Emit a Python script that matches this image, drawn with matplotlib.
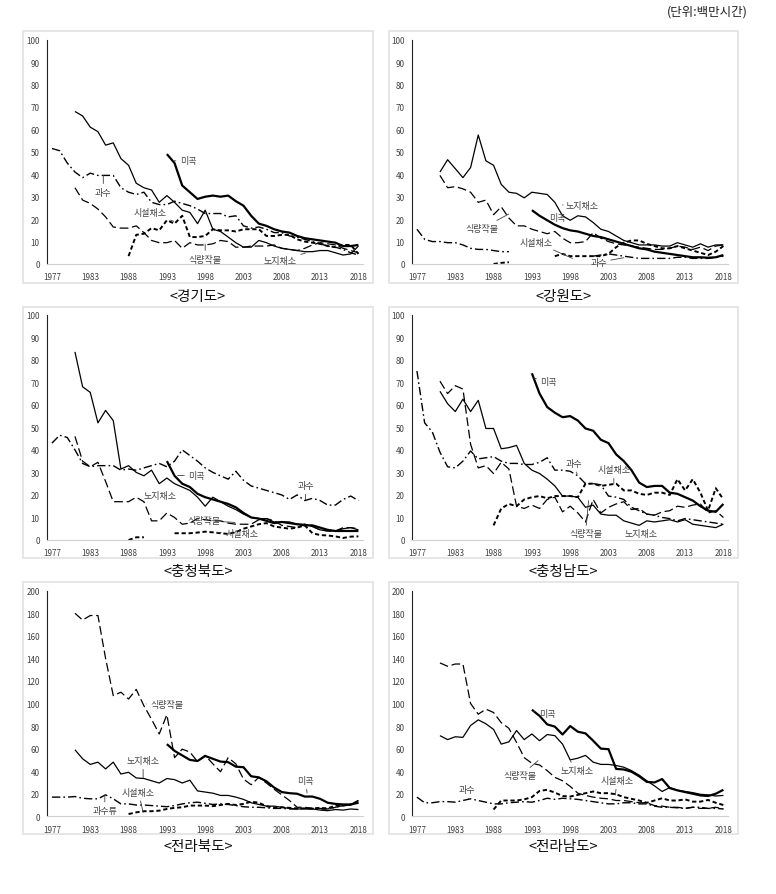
import matplotlib
matplotlib.use('Agg')
import matplotlib.pyplot as plt
from matplotlib.patches import Rectangle
import numpy as np

plt.rcParams['font.family'] = ['Noto Sans CJK KR', 'DejaVu Sans']

# category axis (one year missing between 1977 and 1983)
YEARS = [1977, 1979, 1980, 1981, 1982, 1983, 1984, 1985, 1986, 1987, 1988,
         1989, 1990, 1991, 1992, 1993, 1994, 1995, 1996, 1997, 1998, 1999,
         2000, 2001, 2002, 2003, 2004, 2005, 2006, 2007, 2008, 2009, 2010,
         2011, 2012, 2013, 2014, 2015, 2016, 2017, 2018]
TICK_YEARS = [1977, 1983, 1988, 1993, 1998, 2003, 2008, 2013, 2018]
N = None


def pad(start, vals):
    k = YEARS.index(start)
    return [N] * k + vals + [N] * (len(YEARS) - k - len(vals))


# ---- 경기도 ----
gg_rice = pad(1993, [49, 45, 35, 32, 29, 30, 30.5, 30, 30.5, 28, 26, 21.5, 18, 17, 15.5,
                     14.5, 14, 12.5, 11.5, 11, 10.5, 10, 9.5, 8, 8, 8.5])
gg_openveg = pad(1981, [68, 66, 61, 59, 53, 54, 47, 44, 36, 34, 33, 27.5, 30.5, 27.5, 24, 23,
                        18, 24, 15.5, 14.5, 12, 9.5, 7.5, 7.5, 10.5, 9.5, 8, 7, 6.5, 6, 5.5,
                        5.5, 6, 6, 5, 4, 4.5, 8])
gg_food = pad(1981, [34, 28.5, 27, 24.5, 21, 16.5, 16, 16, 17, 14, 10.5, 9.5, 9.5, 10.5, 7,
                     9.5, 8.5, 8.5, 9, 10.5, 10, 7.5, 7.5, 8, 8, 8, 8.5, 7, 6.5, 6, 7, 8.5,
                     9.5, 9, 8.5, 7, 6, 5])
gg_greenveg = pad(1988, [3.5, 13, 13.5, 16, 15, 19.5, 18, 21.5, 12, 12, 12.5, 15.5, 15, 15,
                         14.5, 15.5, 15.5, 15.5, 12.5, 12.5, 13, 13, 11, 10, 9.5, 9, 8, 7.5,
                         8.5, 8.5, 4.5])
gg_fruit = pad(1977, [51.5, 50.5, 45, 41, 38.5, 40.5, 39.5, 39.5, 39.5, 34, 32, 31, 32, 27.5,
                      26.5, 26.5, 28, 27, 26, 24.5, 22.5, 22.5, 22.5, 21, 21.5, 17, 16, 16.5,
                      15.5, 14, 14, 12.5, 12, 11, 10, 9, 8, 7.5, 6.5, 5, 4])

# ---- 강원도 ----
gw_rice = pad(1993, [24, 21.5, 19.5, 17.5, 16, 15, 14.5, 13.5, 12.5, 12, 11, 10, 9, 8, 7,
                     6.5, 5.5, 5, 4.5, 4, 3.5, 3, 3, 2.8, 3, 4])
gw_openveg = pad(1981, [41, 46.5, 42.5, 38.5, 43, 57.5, 46, 44, 35.5, 32, 31.5, 29.5, 32,
                        31.5, 31, 27.5, 21.5, 19.5, 21.5, 21, 18.5, 15.5, 14.5, 12.5, 10.5,
                        9.5, 8.5, 8.5, 8.5, 8, 8, 9.5, 8.5, 7.5, 9, 7.5, 8.5, 8.5])
gw_food = pad(1981, [39.5, 34, 34.5, 33.5, 32, 27.5, 28.5, 22, 25.5, 20.5, 17, 17, 15.5,
                     14.5, 13.5, 14.5, 11.5, 9.5, 9.5, 10, 14, 11.5, 10, 9, 8.5, 8, 7.5, 7,
                     6.5, 6.5, 7, 8, 7.5, 6.5, 7.5, 6, 8, 8.5])
gw_greenveg = ([N] * 10 + [0, 0.5, 0.8] + [N] * 5 +
               [3.5, 4.5, 3.5, 3.5, 3.5, 3.5, 3.5, 4.5, 7.5, 9.5, 10.5, 10.5, 9, 8, 7, 7,
                8, 7, 6, 5, 4, 5.5, 8])
gw_fruit = ([15.5, 11, 10, 10, 9.5, 9.5, 8.5, 7, 6.5, 6.5, 6, 5.5, 5.5] + [N] * 10 +
            [3.5, 4, 4.5, 4, 3.5, 3, 2.5, 2.5, 2.5, 2.5, 2.5, 3, 3, 2.5, 2.5, 2.5, 3, 3.5])

# ---- 충청북도 ----
cb_rice = pad(1993, [35, 28.5, 25, 23.5, 20.5, 19, 18, 17, 16, 14.5, 12, 10, 9.5, 8.5, 7.5,
                     8, 7.5, 7, 6.5, 6.5, 5.5, 4.5, 4, 4, 4, 4])
cb_openveg = pad(1981, [83.5, 68, 65.5, 52, 57.5, 53, 31.5, 33, 30, 28.5, 31, 25, 27.5, 25,
                        23.5, 22, 19, 15, 19, 17, 15, 13.5, 11.5, 10, 9.5, 9.5, 8, 8, 8, 7,
                        7, 6, 4.5, 4, 4, 5, 5.5, 4.5])
cb_food = pad(1981, [46, 35, 32.5, 34.5, 26, 17, 17, 17, 19, 17, 8.5, 8.5, 12, 10, 7, 7.5,
                     9.5, 9, 8.5, 8.5, 7.5, 7, 7, 7, 9, 9.5, 8.5, 6.5, 6, 5.5, 7, 6, 4.5,
                     4, 4, 5.5, 5.5, 5])
cb_greenveg = ([N] * 10 + [0, 1.2, 1.2] + [N] * 3 +
               [3, 3, 3, 3.3, 3.7, 3.4, 3, 2.7, 3.5, 5, 6, 7, 7.5, 6, 5.5, 5, 5.5, 6.5,
                3, 2.2, 2, 1.6, 0.9, 1.5, 1.6])
cb_fruit = pad(1977, [43, 46.5, 45.5, 40, 34, 32.5, 33, 33, 33, 31, 31.5, 31, 32, 33, 34,
                      32.5, 35, 40, 37.5, 35, 32, 30, 28.5, 27, 30.5, 26.5, 24, 23, 22, 21,
                      20, 18, 20, 17.5, 18.5, 17.5, 15.5, 15.5, 18, 19.5, 17.5])

# ---- 충청남도 ----
cn_rice = pad(1993, [74, 65, 59, 56.5, 54.5, 55, 53, 49.5, 48.5, 44.5, 43, 38, 35, 31, 25.5,
                     23.5, 24, 24, 21, 20.5, 19, 17.5, 15, 13, 12.5, 16])
cn_openveg = pad(1981, [66, 60.5, 57, 62.5, 57, 62, 49.5, 49.5, 40.5, 41, 42, 34, 31, 29.5,
                        27, 24, 19.5, 19.5, 19, 14.5, 15.5, 11.5, 11, 11, 8.5, 7.5, 6.5,
                        8.5, 8, 8.5, 9, 8, 9, 7, 6.5, 6, 5.5, 7])
cn_food = pad(1981, [70.5, 65, 68.5, 67, 42.5, 32, 33, 29.5, 34.5, 31.5, 15, 14, 15.5, 14,
                     18, 19, 12.5, 15, 12, 8, 18, 12, 14.5, 16, 17, 13.5, 14, 11.5, 11,
                     12.5, 13, 15, 14.5, 15.5, 16, 12, 13, 10])
cn_greenveg = pad(1988, [6.5, 14, 16, 15, 18, 19, 19.5, 18.5, 19.5, 19.5, 19.5, 19, 25, 25,
                         24, 24.5, 25, 22, 22, 20.5, 20, 21, 21, 20, 27, 22, 27, 21, 13,
                         23, 18])
cn_fruit = pad(1977, [75, 52, 48, 39, 32.5, 32, 35, 39.5, 36, 36.5, 37, 35, 34, 34, 33.5,
                      33.5, 34.5, 36.5, 31, 31, 30.5, 28.5, 25, 25, 24.5, 19.5, 19, 18,
                      14.5, 13, 11.5, 11, 10, 9.5, 8.5, 9.5, 9, 8.5, 8, 7.5, 7])

# ---- 전라북도 ----
jb_rice = pad(1993, [64, 58, 54, 50, 49, 53.5, 51, 48.5, 48, 44, 43.5, 35.5, 34.5, 31, 25.5,
                     21.5, 20.5, 20, 17.5, 17.5, 15.5, 12, 11, 10.5, 10.5, 12])
jb_openveg = pad(1981, [59, 51, 46, 48, 42, 48, 37.5, 39, 34, 33.5, 31.5, 29.5, 33.5, 32.5,
                        29.5, 32, 22.5, 21.5, 20.5, 18.5, 18.5, 17, 15, 12, 10.5, 9, 9, 8,
                        7, 6.5, 6.5, 6.5, 5.5, 5, 6, 5.5, 6.5, 6])
jb_food = pad(1981, [180, 174, 178, 178, 140, 107, 110, 104, 112.5, 98, 86, 73, 90, 52,
                     59.5, 57, 48.5, 54, 46.5, 39.5, 52, 46.5, 33, 28, 34.5, 29.5, 24, 19,
                     14, 8, 8, 7, 7, 6.5, 8, 9.5, 10, 14])
jb_greenveg = pad(1988, [2, 3.5, 4.5, 4.5, 5, 6.5, 7.5, 8, 9.5, 9.5, 9.5, 9, 10, 11, 10, 11,
                         13, 12, 9, 7.5, 8, 7.5, 7, 7, 7, 7.5, 7, 9.5, 9.5, 10.5, 12])
jb_fruit = pad(1977, [17, 17, 17, 17.5, 16, 15.5, 15.5, 19, 15.5, 11, 11, 10, 10, 9.5, 9,
                      8.5, 9.5, 11, 12, 12.5, 11.5, 10.5, 11, 10.5, 9.5, 8.5, 8, 8, 7.5, 7,
                      7, 6.5, 6.5, 7, 6.5, 6.5, 6.5, 8, 9.5, 10.5, 14])

# ---- 전라남도 ----
jn_rice = pad(1993, [94.5, 89, 81.5, 79.5, 72.5, 80, 75, 73.5, 67, 60, 59.5, 42, 41.5, 39.5,
                     35.5, 30.5, 30, 33, 25, 23, 21.5, 20, 18.5, 18, 20, 23.5])
jn_openveg = pad(1981, [71.5, 68, 70.5, 70, 80.5, 85.5, 82, 77, 64, 66, 76, 68, 73, 67, 72.5,
                        71.5, 64, 50, 51.5, 54, 48, 46, 46, 45, 43.5, 40.5, 36.5, 31.5, 27,
                        22, 25.5, 23, 22, 21, 19.5, 19, 18, 18.5])
jn_food = pad(1981, [136, 133, 135, 135, 100, 90.5, 95, 92, 83, 78, 65.5, 52, 47, 45.5,
                     40.5, 34.5, 31.5, 26.5, 20.5, 18.5, 17, 16, 15.5, 14, 14, 13, 12, 12,
                     9.5, 9, 8, 8, 7, 8, 7, 7, 8, 6.5])
jn_greenveg = pad(1988, [6, 14, 14, 14, 15, 17, 22.5, 23.5, 21, 18, 17.5, 19, 20.5, 22, 20.5,
                         20.5, 19.5, 17, 15.5, 14, 12, 14, 16, 14, 14, 15, 13, 13, 14.5,
                         12, 10])
jn_fruit = pad(1977, [17, 12, 12, 13, 13, 12.5, 14, 15.5, 14, 12.5, 11, 11, 12, 12.5, 13,
                      12.5, 14, 16, 15, 16, 15.5, 15, 14, 13, 12, 11, 11, 12, 12, 11, 11, 9,
                      8, 8, 7.5, 7, 8, 8, 7, 7, 6.5])

# line styles per crop
STYLES = {
    '미곡': dict(lw=1.6, ls='-'),
    '노지채소': dict(lw=0.9, ls='-'),
    '식량작물': dict(lw=0.9, dashes=(7, 3)),
    '시설채소': dict(lw=1.4, dashes=(2.2, 1.4)),
    '과수': dict(lw=1.0, dashes=(6, 2.2, 1.2, 2.2)),
}

# (region title, ymax, series, labels: text, text pos, leader target)
panels = [
    ('<경기도>', 100,
     [('식량작물', gg_food), ('과수', gg_fruit), ('시설채소', gg_greenveg),
      ('노지채소', gg_openveg), ('미곡', gg_rice)],
     [('미곡', (17.8, 46), (15.9, 46)), ('과수', (6.7, 32), (6.7, 39.5)),
      ('시설채소', (12.8, 23), (15.9, 19)), ('식량작물', (20, 2.2), (20, 8.9)),
      ('노지채소', (29.8, 1.5), (33.1, 4.9))]),
    ('<강원도>', 100,
     [('식량작물', gw_food), ('과수', gw_fruit), ('시설채소', gw_greenveg),
      ('노지채소', gw_openveg), ('미곡', gw_rice)],
     [('노지채소', (21.6, 26.3), (19, 26.3)), ('미곡', (18.3, 20.8), None),
      ('식량작물', (8.5, 15.9), (12, 22.3)), ('시설채소', (15.5, 9.7), (20.3, 2.5)),
      ('과수', (23.7, 0.7), (27, 2.8))]),
    ('<충청북도>', 100,
     [('식량작물', cb_food), ('과수', cb_fruit), ('시설채소', cb_greenveg),
      ('노지채소', cb_openveg), ('미곡', cb_rice)],
     [('미곡', (18.9, 28.6), (16.4, 28.6)), ('노지채소', (14.1, 19.7), None),
      ('식량작물', (19.8, 8.6), (23.9, 7.8)), ('시설채소', (24.8, 2.7), (21.6, 3.3)),
      ('과수', (33.1, 24.1), (33.1, 17.8))]),
    ('<충청남도>', 100,
     [('식량작물', cn_food), ('과수', cn_fruit), ('시설채소', cn_greenveg),
      ('노지채소', cn_openveg), ('미곡', cn_rice)],
     [('미곡', (17.2, 70.4), (15.25, 71.9)), ('과수', (20.5, 34), (20.9, 29.3)),
      ('시설채소', (25.7, 31.2), (25.7, 24.9)), ('식량작물', (22, 2.7), (22.4, 17.5)),
      ('노지채소', (29.2, 2.7), None)]),
    ('<전라북도>', 200,
     [('식량작물', jb_food), ('과수', jb_fruit), ('시설채소', jb_greenveg),
      ('노지채소', jb_openveg), ('미곡', jb_rice)],
     [('식량작물', (15, 98.7), (12.3, 99.6)), ('노지채소', (11.9, 49.3), (11.9, 33.7)),
      ('미곡', (33.1, 31.6), (33.3, 20.7)), ('시설채소', (11.3, 21.3), (11.9, 3.5)),
      ('과수류', (6.9, 5), (6.9, 18.9))]),
    ('<전라남도>', 200,
     [('식량작물', jn_food), ('과수', jn_fruit), ('시설채소', jn_greenveg),
      ('노지채소', jn_openveg), ('미곡', jn_rice)],
     [('미곡', (17, 90.7), (15.25, 92.8)), ('식량작물', (13.5, 36), (15.8, 49.3)),
      ('노지채소', (20.9, 40.5), (20, 49.3)), ('시설채소', (26.1, 31.6), (25.9, 18.9)),
      ('과수', (6.5, 23.6), (6.75, 15.4))]),
]

W, H = 776, 895
fig = plt.figure(figsize=(W / 100, H / 100), dpi=100)

col_box = [(23, 373), (389, 738)]
row_box = [(32, 284), (308, 559), (583, 835)]
col_ax = [46.6, 411.6]
ax_w = 316.4
row_ax = [(40.7, 265), (315.7, 541), (591.7, 817.3)]
row_title = [297, 572, 847]

x = np.arange(len(YEARS))
tick_pos = [YEARS.index(y) for y in TICK_YEARS]

for i, (title, ymax, series, labels) in enumerate(panels):
    r, c = divmod(i, 2)
    bx0, bx1 = col_box[c]
    by0, by1 = row_box[r]
    fig.add_artist(Rectangle((bx0 / W, 1 - by1 / H), (bx1 - bx0) / W, (by1 - by0) / H,
                             transform=fig.transFigure, fill=False, ec='#e2e2e2', lw=1.2))
    top, bot = row_ax[r]
    ax = fig.add_axes([col_ax[c] / W, 1 - bot / H, ax_w / W, (bot - top) / H])
    ax.patch.set_alpha(0)

    for name, vals in series:
        y = np.array(vals, dtype=float)
        ax.plot(x, y, color='black', solid_capstyle='butt', dash_capstyle='butt',
                **STYLES[name])

    for text, tpos, target in labels:
        if target is None:
            ax.text(tpos[0], tpos[1], text, fontsize=6.5, color='#404040',
                    ha='center', va='center')
        else:
            ax.annotate(text, xy=target, xytext=tpos, fontsize=6.5, color='#404040',
                        ha='center', va='center',
                        arrowprops=dict(arrowstyle='-', color='#404040', lw=0.6,
                                        shrinkA=1, shrinkB=0))

    ax.set_xlim(-0.7, 40.6)
    ax.set_ylim(0, ymax)
    step = 10 if ymax == 100 else 20
    ax.set_yticks(np.arange(0, ymax + 1, step))
    ax.set_xticks(tick_pos)
    ax.set_xticklabels([str(t) for t in TICK_YEARS])
    ax.tick_params(length=0, labelsize=5.8, labelcolor='#404040')
    ax.tick_params(axis='x', pad=6)
    ax.tick_params(axis='y', pad=5)
    for s in ('top', 'right'):
        ax.spines[s].set_visible(False)
    ax.spines['left'].set_color('#222222')
    ax.spines['left'].set_linewidth(0.8)
    ax.spines['bottom'].set_color('#d0d0d0')
    ax.spines['bottom'].set_linewidth(0.8)

    fig.text((bx0 + bx1) / 2 / W, 1 - row_title[r] / H, title, fontsize=10.5,
             ha='center', va='center', color='#111111')

fig.text(748 / W, 1 - 12 / H, '(단위:백만시간)', fontsize=9, ha='right', va='center',
         color='#222222')

fig.savefig('out.png', dpi=100)
